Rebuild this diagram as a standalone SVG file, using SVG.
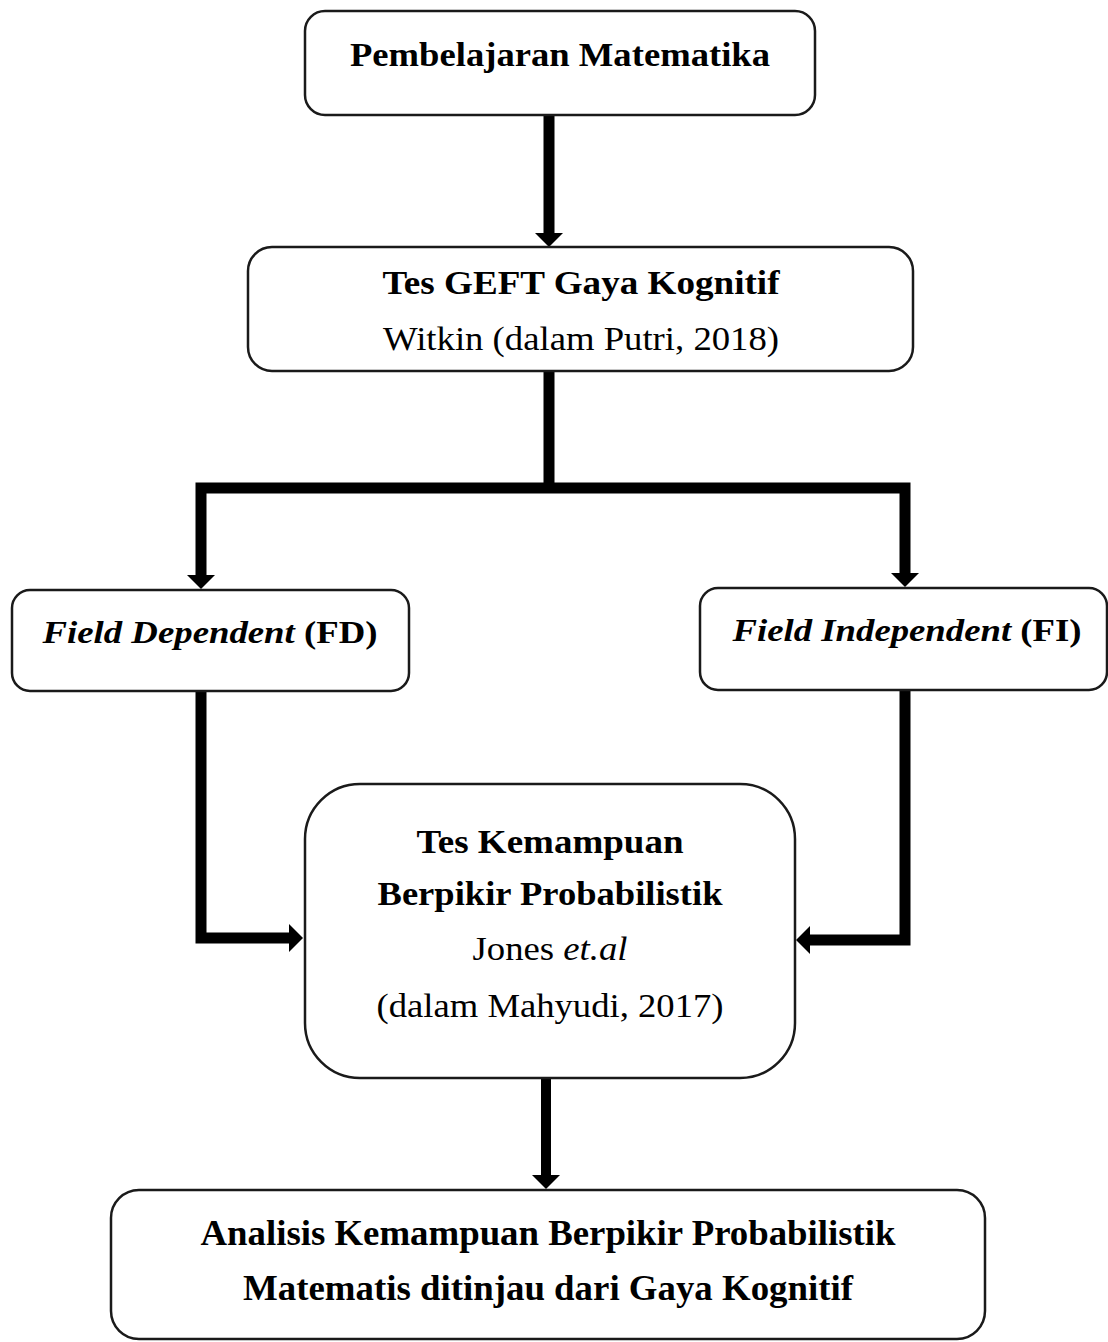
<svg xmlns="http://www.w3.org/2000/svg" width="1108" height="1342" viewBox="0 0 1108 1342">
<defs>
<style>
.box{fill:#fff;stroke:#1a1a1a;stroke-width:2.5}
.t{fill:#000;text-anchor:middle}
.b{font-weight:bold}
.i{font-style:italic}
.con{fill:none;stroke:#000;stroke-width:11;stroke-linejoin:miter}
</style>
<marker id="ah" markerUnits="userSpaceOnUse" markerWidth="14" markerHeight="28" refX="0" refY="14" orient="auto-start-reverse" viewBox="0 0 14 28">
<path d="M0,0 L14,14 L0,28 z" fill="#000"/>
</marker>
</defs>
<rect width="1108" height="1342" fill="#fff"/>
<g id="connectors">
<path class="con" d="M549,115 V233" marker-end="url(#ah)"/>
<path class="con" d="M549,371 V488"/>
<path class="con" d="M201,575 V488 H905 V573" marker-start="url(#ah)" marker-end="url(#ah)"/>
<path class="con" d="M201,691 V938 H289" marker-end="url(#ah)"/>
<path class="con" d="M905,690 V940 H810" marker-end="url(#ah)"/>
<path class="con" d="M546,1078 V1175" style="stroke-width:10" marker-end="url(#ah)"/>
</g>
<g font-family="Liberation Serif, Times New Roman, Times, serif">
<g id="node-pembelajaran">
<rect class="box" x="305" y="11" width="510" height="104" rx="20"/>
<text class="t b" x="560" y="66" font-size="33" textLength="420" lengthAdjust="spacingAndGlyphs">Pembelajaran Matematika</text>
</g>
<g id="node-geft">
<rect class="box" x="248" y="247" width="665" height="124" rx="24"/>
<text class="t b" x="581" y="294" font-size="33" textLength="397" lengthAdjust="spacingAndGlyphs">Tes GEFT Gaya Kognitif</text>
<text class="t" x="581" y="350" font-size="33" textLength="396" lengthAdjust="spacingAndGlyphs">Witkin (dalam Putri, 2018)</text>
</g>
<g id="node-fd">
<rect class="box" x="12" y="590" width="397" height="101" rx="18"/>
<text class="t b" x="210" y="643" font-size="32" textLength="335" lengthAdjust="spacingAndGlyphs"><tspan class="i">Field Dependent</tspan> (FD)</text>
</g>
<g id="node-fi">
<rect class="box" x="700" y="588" width="407" height="102" rx="18"/>
<text class="t b" x="907" y="641" font-size="32" textLength="349" lengthAdjust="spacingAndGlyphs"><tspan class="i">Field Independent</tspan> (FI)</text>
</g>
<g id="node-tes">
<rect class="box" x="305" y="784" width="490" height="294" rx="55"/>
<text class="t b" x="550" y="853" font-size="33" textLength="267" lengthAdjust="spacingAndGlyphs">Tes Kemampuan</text>
<text class="t b" x="550" y="905" font-size="33" textLength="345" lengthAdjust="spacingAndGlyphs">Berpikir Probabilistik</text>
<text class="t" x="550" y="960" font-size="33" textLength="155" lengthAdjust="spacingAndGlyphs">Jones <tspan class="i">et.al</tspan></text>
<text class="t" x="550" y="1017" font-size="33" textLength="347" lengthAdjust="spacingAndGlyphs">(dalam Mahyudi, 2017)</text>
</g>
<g id="node-analisis">
<rect class="box" x="111" y="1190" width="874" height="149" rx="28"/>
<text class="t b" x="548" y="1245" font-size="35" textLength="695" lengthAdjust="spacingAndGlyphs">Analisis Kemampuan Berpikir Probabilistik</text>
<text class="t b" x="548" y="1300" font-size="35" textLength="610" lengthAdjust="spacingAndGlyphs">Matematis ditinjau dari Gaya Kognitif</text>
</g>
</g>
</svg>
